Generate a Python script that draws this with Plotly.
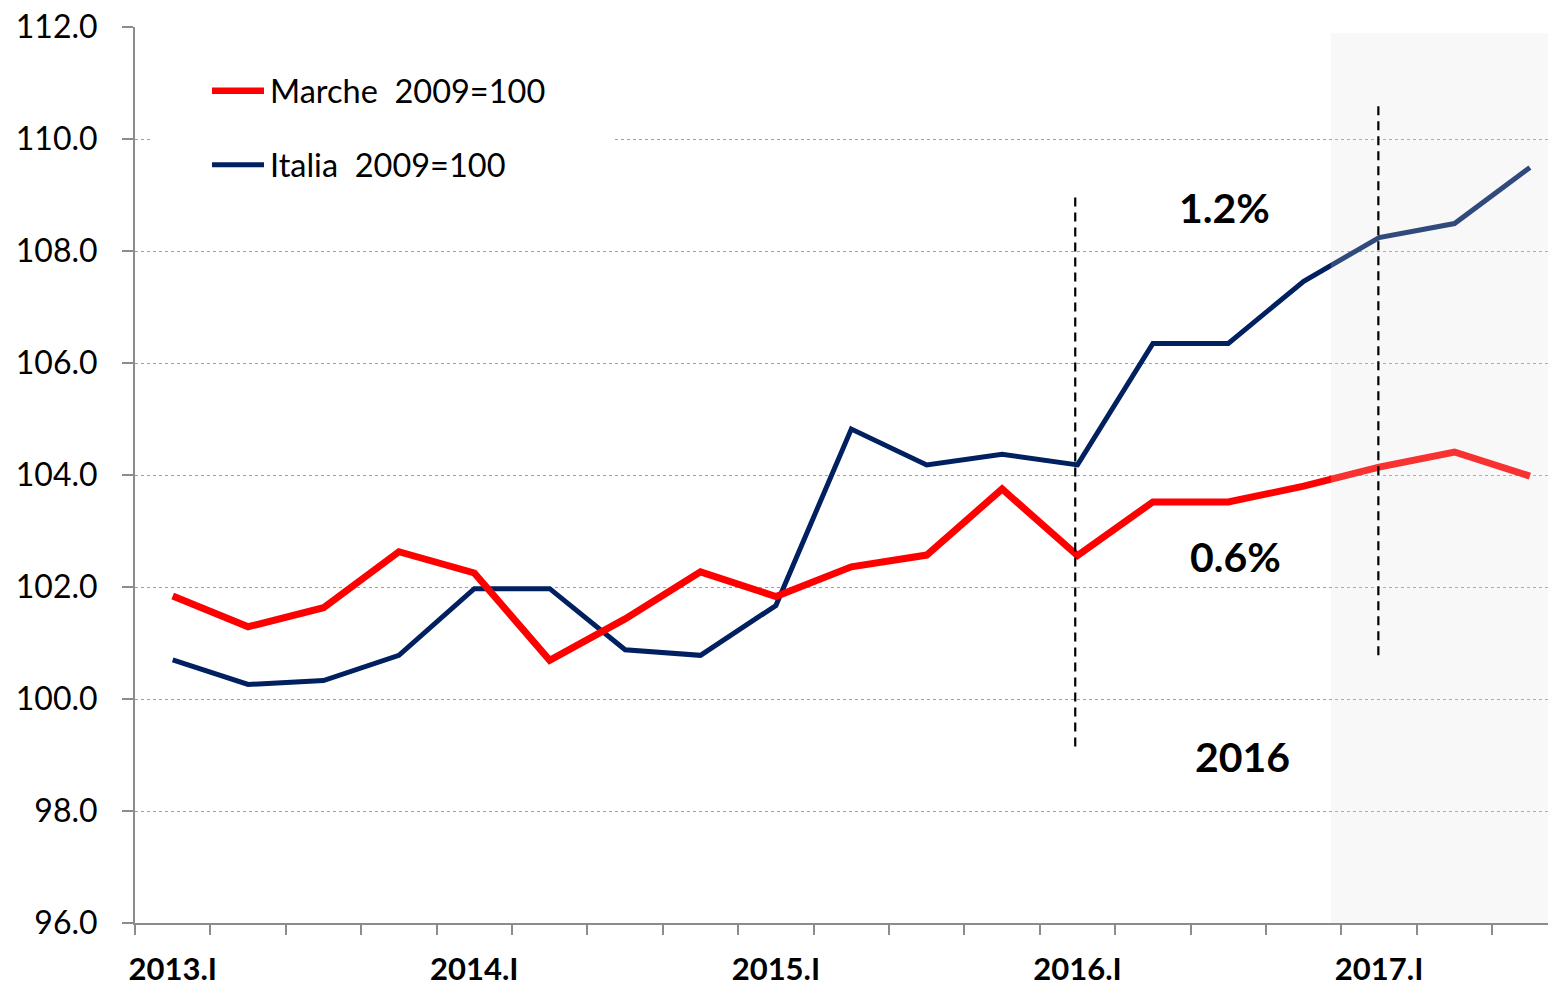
import plotly.graph_objects as go

quarters = ["2013.I", "2013.II", "2013.III", "2013.IV",
            "2014.I", "2014.II", "2014.III", "2014.IV",
            "2015.I", "2015.II", "2015.III", "2015.IV",
            "2016.I", "2016.II", "2016.III", "2016.IV",
            "2017.I", "2017.II", "2017.III"]
marche = [101.84, 101.29, 101.63, 102.63, 102.25, 100.69, 101.43, 102.27, 101.83,
          102.36, 102.57, 103.75, 102.56, 103.52, 103.52, 103.80, 104.14, 104.41, 103.98]
italia = [100.70, 100.26, 100.33, 100.78, 101.97, 101.97, 100.88, 100.78, 101.67,
          104.82, 104.18, 104.37, 104.18, 106.35, 106.35, 107.46, 108.24, 108.49, 109.49]
series_names = ["Marche  2009=100", "Italia  2009=100"]
label_every = 4
annotations_text = ["1.2%", "0.6%", "2016"]

W, H = 1550, 989
ML, MR, MT, MB = 135, 2, 27, 64
PW, PH = W - ML - MR, H - MT - MB

def px(xp):
    return (xp - ML) / PW

def py(yp):
    return (H - MB - yp) / PH

FONT = "Lato, 'Open Sans', sans-serif"
xs = list(range(len(quarters)))

fig = go.Figure()
fig.add_trace(go.Scatter(x=xs, y=italia, mode="lines", name=series_names[1],
                         line=dict(color="#002060", width=5), showlegend=False))
fig.add_trace(go.Scatter(x=xs, y=marche, mode="lines", name=series_names[0],
                         line=dict(color="#FF0000", width=7), showlegend=False))

shapes = []
# shaded forecast area
shapes.append(dict(type="rect", xref="x", yref="y", x0=15.36, x1=18.3, y0=96, y1=111.89,
                   fillcolor="rgba(225,225,225,0.22)", line=dict(width=0), layer="above"))
# dashed vertical markers
shapes.append(dict(type="line", xref="x", yref="y", x0=11.97, x1=11.97, y0=99.15, y1=109.04,
                   line=dict(color="black", width=2.2, dash="9px,6px"), layer="above"))
shapes.append(dict(type="line", xref="x", yref="y", x0=15.99, x1=15.99, y0=100.78, y1=110.68,
                   line=dict(color="black", width=2.2, dash="9px,6px"), layer="above"))
# legend box
shapes.append(dict(type="rect", xref="paper", yref="paper", x0=px(152), x1=px(613),
                   y0=py(200), y1=py(50), fillcolor="white", line=dict(width=0), layer="above"))
shapes.append(dict(type="line", xref="paper", yref="paper", x0=px(212), x1=px(264),
                   y0=py(91), y1=py(91), line=dict(color="#FF0000", width=6.5), layer="above"))
shapes.append(dict(type="line", xref="paper", yref="paper", x0=px(212), x1=px(264),
                   y0=py(165), y1=py(165), line=dict(color="#002060", width=5), layer="above"))

annotations = [
    dict(xref="paper", yref="paper", x=px(268), y=py(91), text=series_names[0],
         showarrow=False, xanchor="left", yanchor="middle",
         font=dict(family=FONT, size=32.5, color="black")),
    dict(xref="paper", yref="paper", x=px(268), y=py(165), text=series_names[1],
         showarrow=False, xanchor="left", yanchor="middle",
         font=dict(family=FONT, size=32.5, color="black")),
    dict(xref="x", yref="y", x=13.95, y=108.78, text="<b>%s</b>" % annotations_text[0],
         showarrow=False, font=dict(family=FONT, size=41, color="black")),
    dict(xref="x", yref="y", x=14.1, y=102.54, text="<b>%s</b>" % annotations_text[1],
         showarrow=False, font=dict(family=FONT, size=41, color="black")),
    dict(xref="x", yref="y", x=14.19, y=98.98, text="<b>%s</b>" % annotations_text[2],
         showarrow=False, font=dict(family=FONT, size=41, color="black")),
]

fig.update_layout(
    width=W, height=H,
    margin=dict(l=ML, r=MR, t=MT, b=MB, pad=0),
    paper_bgcolor="white", plot_bgcolor="white",
    showlegend=False,
    shapes=shapes, annotations=annotations,
    xaxis=dict(
        range=[-0.5, 18.24], showgrid=False, zeroline=False,
        tickmode="array", tickvals=xs[::label_every],
        ticktext=["<b>%s</b>" % q for q in quarters[::label_every]],
        ticks="", ticklabelstandoff=18,
        tickfont=dict(family=FONT, size=31, color="black"),
        showline=True, linecolor="#8c8c8c", linewidth=2,
        minor=dict(tickmode="linear", tick0=-0.5, dtick=1, ticks="outside",
                   ticklen=10, tickcolor="#8c8c8c", tickwidth=1.5, showgrid=False),
    ),
    yaxis=dict(
        range=[96, 112], dtick=2, tick0=96, tickformat=".1f",
        showgrid=True, gridcolor="#a0a0a0", griddash="dot", gridwidth=1,
        zeroline=False, showline=True, linecolor="#8c8c8c", linewidth=2,
        ticks="outside", ticklen=11, tickcolor="#8c8c8c", tickwidth=1.5,
        ticklabelstandoff=18,
        tickfont=dict(family=FONT, size=32, color="black"),
    ),
)

fig.write_html("out.html", config={"displayModeBar": False},
               post_script="document.body.style.margin='0';document.body.style.overflow='hidden';")
